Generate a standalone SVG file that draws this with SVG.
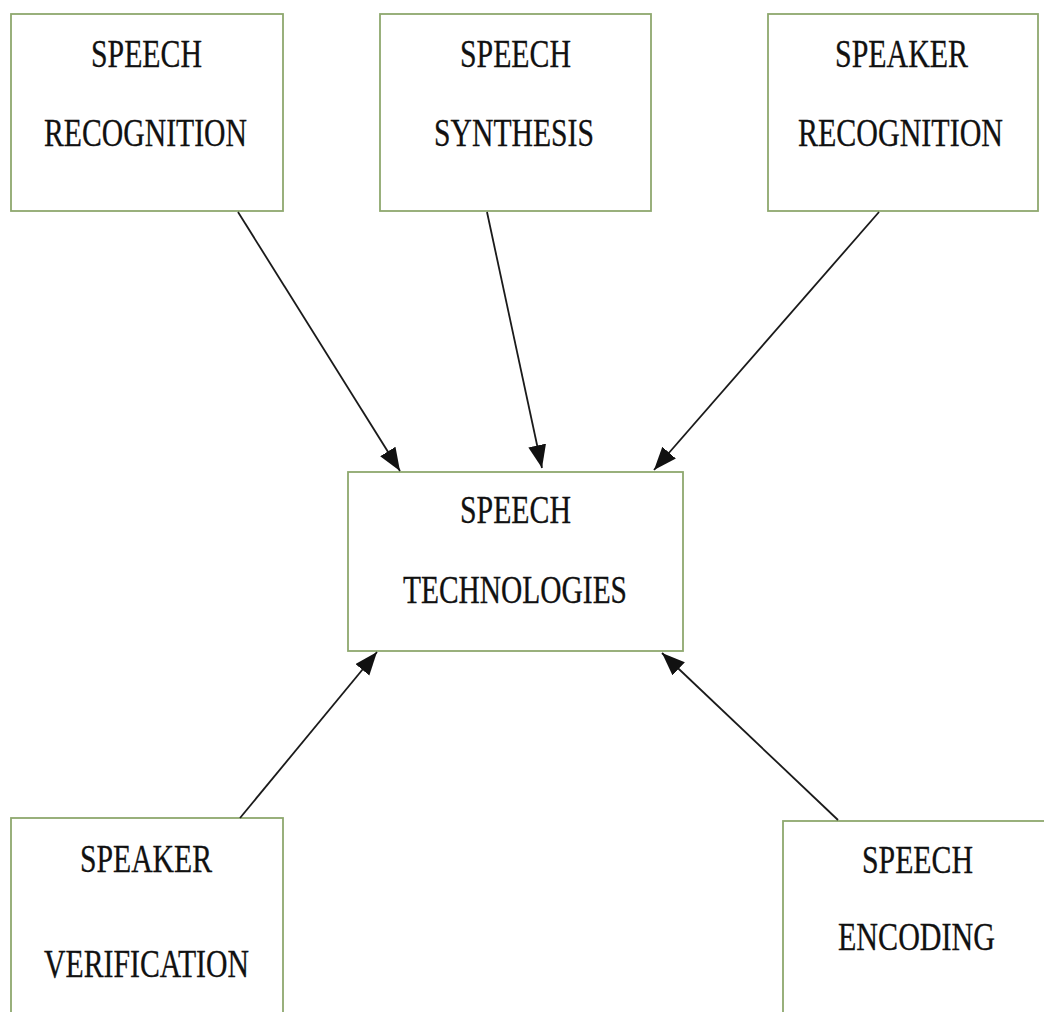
<svg xmlns="http://www.w3.org/2000/svg" width="1044" height="1012" viewBox="0 0 1044 1012">
  <style>
    .box { fill: #ffffff; stroke: #8ea86e; stroke-width: 1.8; }
    .lbl { font-family: "Liberation Serif", "Times New Roman", serif; font-size: 39px; fill: #111111; stroke: #111111; stroke-width: 0.3; text-anchor: start; }
    .conn { stroke: #1a1a1a; stroke-width: 1.8; fill: none; marker-end: url(#arrow); }
  </style>
  <defs>
    <marker id="arrow" markerUnits="userSpaceOnUse" markerWidth="26" markerHeight="20" refX="23" refY="9" orient="auto">
      <path d="M0,0 L23,9 L0,18 Z" fill="#111111"/>
    </marker>
  </defs>
  <rect width="1044" height="1012" fill="#ffffff"/>

  <g id="speech-recognition">
    <rect class="box" x="11" y="14" width="272" height="197"/>
    <text class="lbl" x="91" y="67" textLength="111" lengthAdjust="spacingAndGlyphs">SPEECH</text>
    <text class="lbl" x="44" y="146" textLength="203" lengthAdjust="spacingAndGlyphs">RECOGNITION</text>
  </g>

  <g id="speech-synthesis">
    <rect class="box" x="380" y="14" width="271" height="197"/>
    <text class="lbl" x="460" y="67" textLength="111" lengthAdjust="spacingAndGlyphs">SPEECH</text>
    <text class="lbl" x="434" y="146" textLength="160" lengthAdjust="spacingAndGlyphs">SYNTHESIS</text>
  </g>

  <g id="speaker-recognition">
    <rect class="box" x="768" y="14" width="270" height="197"/>
    <text class="lbl" x="835" y="67" textLength="133" lengthAdjust="spacingAndGlyphs">SPEAKER</text>
    <text class="lbl" x="798" y="146" textLength="205" lengthAdjust="spacingAndGlyphs">RECOGNITION</text>
  </g>

  <g id="speech-technologies">
    <rect class="box" x="348" y="472" width="335" height="179"/>
    <text class="lbl" x="460" y="523" textLength="111" lengthAdjust="spacingAndGlyphs">SPEECH</text>
    <text class="lbl" x="403" y="603" textLength="224" lengthAdjust="spacingAndGlyphs">TECHNOLOGIES</text>
  </g>

  <g id="speaker-verification">
    <rect class="box" x="11" y="818" width="272" height="210"/>
    <text class="lbl" x="80" y="872" textLength="132" lengthAdjust="spacingAndGlyphs">SPEAKER</text>
    <text class="lbl" x="44" y="977" textLength="205" lengthAdjust="spacingAndGlyphs">VERIFICATION</text>
  </g>

  <g id="speech-encoding">
    <rect class="box" x="783" y="821" width="280" height="210"/>
    <text class="lbl" x="862" y="873" textLength="111" lengthAdjust="spacingAndGlyphs">SPEECH</text>
    <text class="lbl" x="838" y="950" textLength="157" lengthAdjust="spacingAndGlyphs">ENCODING</text>
  </g>

  <g id="connectors">
    <line class="conn" x1="238" y1="212" x2="400" y2="471"/>
    <line class="conn" x1="487" y1="212" x2="542" y2="468"/>
    <line class="conn" x1="879" y1="212" x2="654" y2="470"/>
    <line class="conn" x1="240" y1="818" x2="377" y2="652"/>
    <line class="conn" x1="838" y1="820" x2="662" y2="653"/>
  </g>
</svg>
